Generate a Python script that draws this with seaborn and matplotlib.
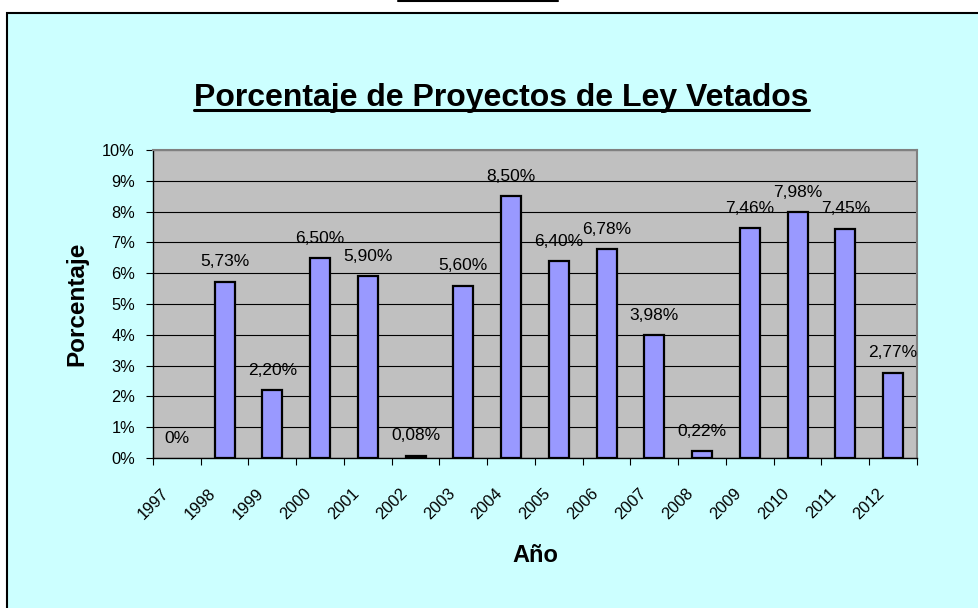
import matplotlib
matplotlib.use("Agg")
import matplotlib.pyplot as plt
import seaborn as sns
import pandas as pd
import numpy as np
from matplotlib.patches import Rectangle
from matplotlib.lines import Line2D

years = ["1997", "1998", "1999", "2000", "2001", "2002", "2003", "2004",
         "2005", "2006", "2007", "2008", "2009", "2010", "2011", "2012"]
values = [0.0, 5.73, 2.20, 6.50, 5.90, 0.08, 5.60, 8.50,
          6.40, 6.78, 3.98, 0.22, 7.46, 7.98, 7.45, 2.77]
y_ticks = [0, 1, 2, 3, 4, 5, 6, 7, 8, 9, 10]
y_tick_labels = [f"{v}%" for v in y_ticks]
value_labels = ["0%" if v == 0 else f"{v:.2f}%".replace(".", ",") for v in values]

title = "Porcentaje de Proyectos de Ley Vetados"
xlabel = "Año"
ylabel = "Porcentaje"

df = pd.DataFrame({"year": years, "value": values})

sns.set_theme(style="white")
plt.rcParams["font.family"] = ["Liberation Sans", "DejaVu Sans"]
plt.rcParams["text.color"] = "black"
plt.rcParams["axes.labelcolor"] = "black"
plt.rcParams["xtick.color"] = "black"
plt.rcParams["ytick.color"] = "black"

W, H = 979, 608
fig = plt.figure(figsize=(W / 100, H / 100), dpi=100, facecolor="white")

# outer cyan chart frame
frame = Rectangle((7.5 / W, -0.02), 1.2, (H - 13.5) / H + 0.02,
                  transform=fig.transFigure, facecolor="#CCFFFF",
                  edgecolor="black", linewidth=1.5, zorder=-10)
fig.patches.append(frame)
fig.lines.append(Line2D([398 / W, 558 / W], [(H - 1) / H, (H - 1) / H],
                        transform=fig.transFigure, color="black", linewidth=1.5,
                        zorder=-9))

ax = fig.add_axes([153 / W, (H - 458) / H, 764 / W, 308 / H])
ax.set_zorder(1)
ax.set_facecolor("#C0C0C0")

sns.barplot(data=df, x="year", y="value", color="#9999FF", saturation=1,
            width=0.42, edgecolor="black", linewidth=1.6, ax=ax, zorder=3)
for p in ax.patches:
    if p.get_height() == 0:
        p.set_linewidth(0)

ax.set_xlim(-0.5, len(years) - 0.5)
ax.set_ylim(0, 10)
ax.set_yticks(y_ticks)
ax.set_yticklabels(y_tick_labels)
ax.yaxis.grid(True, color="black", linewidth=0.8)
ax.xaxis.grid(False)
ax.set_axisbelow(True)

bounds = np.arange(-0.5, len(years) + 0.5, 1)
ax.set_xticks(bounds)
ax.set_xticklabels(years + [""], rotation=45, ha="center", va="top")

ax.tick_params(axis="x", direction="out", length=5, width=0.8, color="black",
               labelcolor="black", pad=15, labelsize=11.8, bottom=True)
ax.tick_params(axis="y", direction="out", length=5, width=0.8, color="black",
               labelcolor="black", pad=8, labelsize=11.8, left=True)

for side in ["left", "bottom"]:
    ax.spines[side].set_color("black")
    ax.spines[side].set_linewidth(1.0)
for side in ["top", "right"]:
    ax.spines[side].set_color("#808080")
    ax.spines[side].set_linewidth(1.5)

for i, (v, lab) in enumerate(zip(values, value_labels)):
    ax.annotate(lab, (i, v), xytext=(0, 11), textcoords="offset points",
                ha="center", va="baseline", fontsize=12.5, color="black",
                zorder=5, annotation_clip=False)

ax.set_xlabel(xlabel, fontsize=17, fontweight="bold", color="black")
ax.set_ylabel(ylabel, fontsize=17.5, fontweight="bold", color="black")
ax.xaxis.set_label_coords(0.5, -0.278)
ax.yaxis.set_label_coords(-0.085, 0.5)

t = fig.text(501.5 / W, (H - 106) / H, title, ha="center", va="baseline",
             fontsize=23, fontweight="bold", color="black")

fig.canvas.draw()
bb = t.get_window_extent()
uy = (H - 110) / H
fig.lines.append(Line2D([bb.x0 / W, bb.x1 / W], [uy, uy], transform=fig.transFigure,
                        color="black", linewidth=2.2))

fig.savefig("out.png", dpi=100, facecolor="white")
